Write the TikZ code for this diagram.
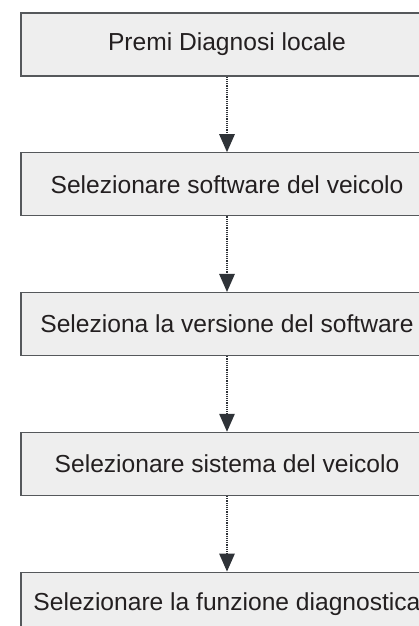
\documentclass[tikz,border=0pt]{standalone}
\usepackage{fontspec}
\setmainfont{Liberation Sans}
\usetikzlibrary{positioning, arrows.meta}
\definecolor{boxfill}{HTML}{EEEEEE}
\definecolor{boxline}{HTML}{55585B}
\definecolor{txtcol}{HTML}{231F20}
\definecolor{arrcol}{HTML}{2F3338}

\begin{document}
\begin{tikzpicture}[
    box/.style={draw=boxline, line width=1.3pt, rectangle, minimum width=412pt, minimum height=63pt, align=center, fill=boxfill, text=txtcol, font=\fontsize{24.6pt}{29pt}\selectfont},
    dotted_arrow/.style={-{Triangle[width=15.5pt, length=18pt]}, arrcol, line width=1.3pt, dash pattern=on 1.2pt off 1pt},
    node distance=75.5pt
]
\useasboundingbox (0,0) rectangle (418pt,-626pt);

% Steps in a single column
\node[box] (premi) at (227pt,-44.5pt) {Premi Diagnosi locale};
\node[box, below=of premi] (software) {Selezionare software del veicolo};
\node[box, below=of software] (versione) {Seleziona la versione del software};
\node[box, below=of versione] (sistema) {Selezionare sistema del veicolo};
\node[box, below=of sistema] (funzione) {Selezionare la funzione diagnostica};

% Flow from one step to the next
\draw[dotted_arrow] (premi) -- (software);
\draw[dotted_arrow] (software) -- (versione);
\draw[dotted_arrow] (versione) -- (sistema);
\draw[dotted_arrow] (sistema) -- (funzione);

\end{tikzpicture}
\end{document}
